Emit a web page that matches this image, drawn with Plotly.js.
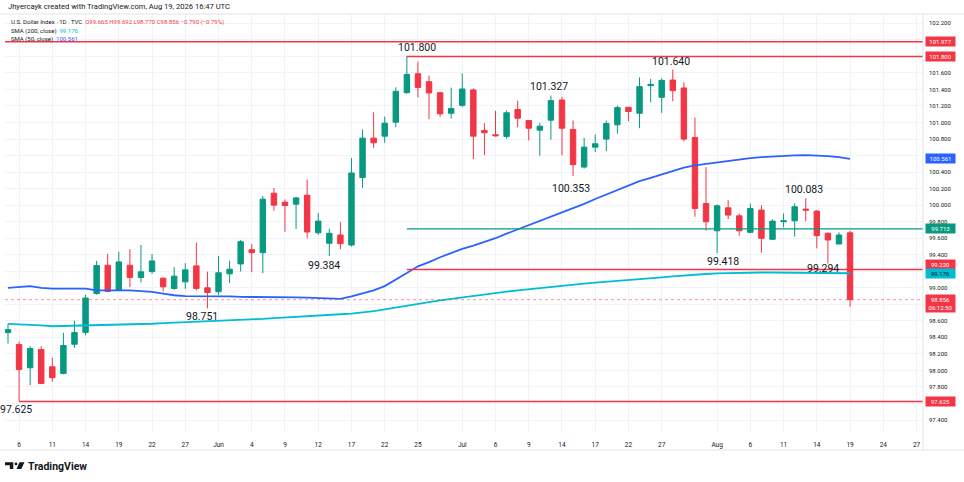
<!DOCTYPE html>
<html><head><meta charset="utf-8">
<script src="https://cdn.plot.ly/plotly-3.0.1.min.js"></script>
<style>html,body{margin:0;padding:0;background:#fff}#chart{width:964px;height:482px}</style>
</head><body><div id="chart"></div>
<script>
// ---------------- data ----------------
const dates = [
 '2026-05-05','2026-05-06','2026-05-07','2026-05-08','2026-05-11','2026-05-12','2026-05-13','2026-05-14','2026-05-15','2026-05-18','2026-05-19','2026-05-20','2026-05-21','2026-05-22','2026-05-25','2026-05-26','2026-05-27','2026-05-28','2026-05-29',
 '2026-06-01','2026-06-02','2026-06-03','2026-06-04','2026-06-05','2026-06-08','2026-06-09','2026-06-10','2026-06-11','2026-06-12','2026-06-15','2026-06-16','2026-06-17','2026-06-18','2026-06-19','2026-06-22','2026-06-23','2026-06-24','2026-06-25','2026-06-26','2026-06-29','2026-06-30',
 '2026-07-01','2026-07-02','2026-07-03','2026-07-06','2026-07-07','2026-07-08','2026-07-09','2026-07-10','2026-07-13','2026-07-14','2026-07-15','2026-07-16','2026-07-17','2026-07-20','2026-07-21','2026-07-22','2026-07-23','2026-07-24','2026-07-27','2026-07-28','2026-07-29','2026-07-30','2026-07-31',
 '2026-08-03','2026-08-04','2026-08-05','2026-08-06','2026-08-07','2026-08-10','2026-08-11','2026-08-12','2026-08-13','2026-08-14','2026-08-17','2026-08-18','2026-08-19'];

const opens = [
 98.458,98.313,98.032,98.253,98.045,97.964,98.317,98.461,98.931,99.273,98.967,99.273,99.124,99.196,99.117,98.992,99.072,99.265,99.000,
 98.952,99.169,99.289,99.461,99.425,100.145,100.036,100.012,100.120,99.666,99.539,99.639,99.518,100.334,100.811,100.835,101.004,101.361,101.590,101.494,101.361,101.112,
 101.208,101.394,100.904,100.852,100.831,101.157,101.024,100.907,101.028,101.273,100.916,100.461,100.702,100.799,100.972,101.184,101.112,101.446,101.305,101.514,101.418,100.819,100.020,
 99.690,99.968,99.871,99.671,99.940,99.587,99.799,99.811,99.952,99.928,99.659,99.530,99.665];
const highs = [
 98.566,98.350,98.293,98.293,98.153,98.454,98.602,98.916,99.325,99.410,99.437,99.466,99.518,99.410,99.120,99.249,99.298,99.546,99.196,
 99.386,99.329,99.578,99.530,100.112,100.208,100.069,100.100,100.310,99.904,99.714,99.795,100.570,100.916,101.124,101.072,101.425,101.800,101.735,101.570,101.370,101.422,
 101.594,101.413,100.992,101.141,101.145,101.265,101.030,100.996,101.327,101.313,101.024,100.816,100.855,101.024,101.205,101.190,101.546,101.527,101.534,101.640,101.486,101.060,100.461,
 100.008,100.060,99.900,100.020,100.000,99.828,99.900,100.020,100.083,99.940,99.670,99.671,99.692];
const lows = [
 98.325,97.625,97.823,97.840,97.864,97.952,98.273,98.425,98.916,98.948,98.960,99.008,99.064,99.169,98.955,98.976,98.988,98.967,98.751,
 98.916,99.057,99.196,99.189,99.177,99.931,99.678,99.711,99.599,99.639,99.384,99.466,99.498,100.208,100.690,100.755,100.943,101.350,101.305,101.040,101.069,101.048,
 101.184,100.558,100.606,100.831,100.804,100.943,100.783,100.599,100.792,100.602,100.353,100.442,100.642,100.654,100.864,101.016,100.931,101.245,101.117,101.257,100.771,99.859,99.690,
 99.418,99.831,99.630,99.659,99.425,99.578,99.731,99.618,99.807,99.478,99.294,99.530,98.770];
const closes = [
 98.494,98.012,98.265,97.843,97.912,98.301,98.458,98.876,99.269,98.955,99.313,99.124,99.193,99.325,99.012,99.141,99.217,98.992,98.943,
 99.181,99.225,99.558,99.425,100.072,100.000,99.996,100.088,99.675,99.807,99.659,99.534,100.389,100.811,100.755,100.992,101.377,101.582,101.425,101.358,101.105,101.169,
 101.406,100.835,100.876,100.840,101.117,101.052,100.931,100.955,101.265,100.931,100.490,100.702,100.743,100.988,101.181,101.133,101.434,101.461,101.510,101.386,100.799,99.960,99.799,
 99.992,99.880,99.690,99.960,99.599,99.807,99.811,99.980,99.940,99.630,99.578,99.639,98.856];

const sma50 = [
 99.00,99.01,99.02,99.00,98.99,98.99,98.99,98.99,98.97,98.97,98.97,98.97,98.96,98.95,98.93,98.91,98.90,98.90,98.90,
 98.90,98.895,98.89,98.89,98.885,98.883,98.885,98.885,98.88,98.875,98.868,98.867,98.897,98.93,98.97,99.02,99.095,99.18,99.26,99.31,99.37,99.42,
 99.47,99.51,99.555,99.60,99.655,99.705,99.76,99.81,99.86,99.91,99.96,100.015,100.075,100.13,100.185,100.24,100.29,100.33,100.37,100.415,100.455,100.482,100.50,
 100.515,100.533,100.55,100.57,100.58,100.59,100.597,100.603,100.606,100.602,100.593,100.58,100.561];
const sma200 = [
 98.563,98.56,98.555,98.545,98.535,98.538,98.54,98.542,98.542,98.545,98.549,98.553,98.558,98.565,98.572,98.577,98.581,98.586,98.59,
 98.595,98.60,98.608,98.616,98.624,98.633,98.642,98.652,98.66,98.666,98.672,98.68,98.688,98.70,98.718,98.738,98.758,98.78,98.802,98.826,98.847,98.866,
 98.886,98.904,98.92,98.937,98.953,98.968,98.983,98.997,99.011,99.025,99.039,99.05,99.062,99.072,99.08,99.087,99.10,99.113,99.125,99.137,99.149,99.159,99.167,
 99.175,99.179,99.182,99.184,99.185,99.185,99.184,99.183,99.182,99.181,99.179,99.178,99.176];

const tickDates = ['2026-05-06','2026-05-11','2026-05-14','2026-05-19','2026-05-22','2026-05-27','2026-06-01','2026-06-04','2026-06-09','2026-06-12','2026-06-17','2026-06-22','2026-06-25',
 '2026-07-01','2026-07-06','2026-07-09','2026-07-14','2026-07-17','2026-07-22','2026-07-27','2026-08-03','2026-08-06','2026-08-11','2026-08-14','2026-08-19','2026-08-24','2026-08-27'];
const tickLabels = ['6','11','14','19','22','27','Jun','4','9','12','17','22','25','Jul','6','9','14','17','22','27','Aug','6','11','14','19','24','27'];

const priceTicks = [97.4,97.6,97.8,98.0,98.2,98.4,98.6,98.8,99.0,99.2,99.4,99.6,99.8,100.0,100.2,100.4,100.6,100.8,101.0,101.2,101.4,101.6,101.8,102.0,102.2];

// horizontal levels drawn on the chart
const levelValues = [101.977, 101.800, 99.713, 99.220, 97.625];
const levelStarts = [null, '2026-06-24', '2026-06-24', '2026-06-24', '2026-05-06'];
const levelColors = ['#f23645','#f23645','#089981','#f23645','#f23645'];

// price notes (highs / lows)
const noteDates  = ['2026-06-24','2026-07-13','2026-07-28','2026-07-15','2026-08-13','2026-06-15','2026-08-03','2026-08-17','2026-05-29','2026-05-06'];
const noteValues = [101.800, 101.327, 101.640, 100.353, 100.083, 99.384, 99.418, 99.294, 98.751, 97.625];

// right-axis price tags
const tagValues = [101.977, 101.800, 100.561, 99.713, 99.220, 99.176, 98.856, 97.625];
const tagColors = ['#f23645','#f23645','#2962ff','#089981','#f23645','#00bcd4','#f23645','#f23645'];
const countdown = '06:12:50';

// ---------------- layout helpers ----------------
const PL = 5, PR = 923, PT = 14, PB = 433;
const px = x => (x - PL) / (PR - PL);
const py = y => (PB - y) / (PB - PT);
const X0 = '2026-05-04 17:30', X1 = '2026-08-27 14:00';
const FONT = 'Roboto, "Open Sans", sans-serif';
const TXT = '#131722';

const traces = [
 { type:'candlestick', x:dates, open:opens, high:highs, low:lows, close:closes,
   increasing:{line:{color:'#089981', width:1}, fillcolor:'#089981'},
   decreasing:{line:{color:'#f23645', width:1}, fillcolor:'#f23645'},
   whiskerwidth:0, hoverinfo:'skip' },
 { type:'scatter', mode:'lines', x:dates, y:sma200, line:{color:'#00bcd4', width:1.8}, hoverinfo:'skip' },
 { type:'scatter', mode:'lines', x:dates, y:sma50,  line:{color:'#2962ff', width:1.8}, hoverinfo:'skip' }
];

const shapes = [];
levelValues.forEach((v,i) => {
  shapes.push({type:'line', xref:'x', yref:'y', x0: levelStarts[i] || X0, x1:'2026-09-30', y0:v, y1:v,
    line:{color:levelColors[i], width: levelColors[i]==='#089981' ? 1.2 : 1.5}, layer:'above'});
});
// last price dotted line
shapes.push({type:'line', xref:'paper', yref:'y', x0:0, x1:1, y0:closes[closes.length-1], y1:closes[closes.length-1],
  line:{color:'rgba(242,54,69,0.55)', width:1, dash:'dot'}, layer:'above'});
// pane borders
const border = '#e0e3eb';
shapes.push({type:'line', xref:'paper', yref:'paper', x0:px(0), x1:px(964), y0:1, y1:1, line:{color:border, width:1}});
shapes.push({type:'line', xref:'paper', yref:'paper', x0:1, x1:1, y0:py(450), y1:1, line:{color:border, width:1}});
shapes.push({type:'line', xref:'paper', yref:'paper', x0:px(0), x1:px(964), y0:py(450), y1:py(450), line:{color:border, width:1}});
// TradingView logo
const P = (pts) => 'M ' + pts.map(p => px(p[0]) + ',' + py(p[1])).join(' L ') + ' Z';
shapes.push({type:'path', xref:'paper', yref:'paper', path:P([[5,462.3],[13.3,462.3],[13.3,469],[9.8,469],[9.8,465.2],[5,465.2]]), fillcolor:'#131722', line:{width:0}});
shapes.push({type:'circle', xref:'paper', yref:'paper', x0:px(14.6), x1:px(17.4), y0:py(465.3), y1:py(462.5), fillcolor:'#131722', line:{width:0}});
shapes.push({type:'path', xref:'paper', yref:'paper', path:P([[19.5,462.3],[24.5,462.3],[21.2,469],[16.6,469]]), fillcolor:'#131722', line:{width:0}});

const annotations = [];
// header lines
const hdr = (x, y, text, size) => annotations.push({xref:'paper', yref:'paper', x:px(x), y:py(y), xanchor:'left', yanchor:'middle',
  text, showarrow:false, font:{family:FONT, size, color:TXT}});
hdr(6, 7, 'Jhyercayk created with TradingView.com, Aug 19, 2026 16:47 UTC', 7.6);
hdr(9, 22, 'U.S. Dollar Index · 1D · TVC  <span style="color:#f23645">O99.665 H99.692 L98.770 C98.856 −0.790 (−0.79%)</span>', 6);
hdr(9, 31, 'SMA (200, close)  <span style="color:#00bcd4">' + sma200[sma200.length-1].toFixed(3) + '</span>', 6);
hdr(9, 39.5, 'SMA (50, close)  <span style="color:#2962ff">' + sma50[sma50.length-1].toFixed(3) + '</span>', 6);
annotations.push({xref:'paper', yref:'paper', x:px(26), y:py(466), xanchor:'left', yanchor:'middle', showarrow:false,
  text:'<b>TradingView</b>', font:{family:FONT, size:10.5, color:TXT}});

// price notes
const noteShift = [[10,9],[-2,9],[-2,8],[-2,-12.5],[-2,9],[-5,-9],[6,-8],[-5,-5],[-5,-8],[-3,-8]];
noteValues.forEach((v,i) => annotations.push({xref:'x', yref:'y', x:noteDates[i], y:v, text:v.toFixed(3), showarrow:false,
  xshift:noteShift[i][0], yshift:noteShift[i][1], font:{family:FONT, size:10.5, color:TXT}}));

// right tags
const tagShift = [0,0,0,0,5,-0.5,-3.5,0];
tagValues.forEach((v,i) => {
  const last = (i === 6);
  annotations.push({xref:'paper', yref:'y', x:1, y:v, xanchor:'left', xshift:1.5, yshift:tagShift[i], showarrow:false,
    text: v.toFixed(3) + (last ? '<br>' + countdown : ''), width:27, align:'center', bgcolor:tagColors[i], borderpad:1,
    font:{family:FONT, size:6, color: tagColors[i]==='#00bcd4' ? '#131722' : '#ffffff'}});
});

// tick labels hidden behind a price tag are left blank (grid line kept)
const tickText = priceTicks.map(t => tagValues.some(v => Math.abs(v - t) < 0.06) ? '' : t.toFixed(3));

const layout = {
  width:964, height:482, margin:{l:PL, r:964-PR, t:PT, b:482-PB},
  paper_bgcolor:'#ffffff', plot_bgcolor:'#ffffff', showlegend:false, dragmode:false,
  font:{family:FONT, color:TXT},
  xaxis:{type:'date', range:[X0, X1], rangebreaks:[{bounds:['sat','mon']}], rangeslider:{visible:false},
    tickmode:'array', tickvals:tickDates, ticktext:tickLabels, tickfont:{size:6.5, color:TXT},
    showgrid:true, gridcolor:'#f0f3fa', gridwidth:1, zeroline:false, showline:false, ticks:'', ticklabelstandoff:6, fixedrange:true},
  yaxis:{side:'right', range:[97.243, 102.313], tickmode:'array', tickvals:priceTicks, ticktext:tickText,
    tickfont:{size:6, color:TXT}, showgrid:true, gridcolor:'#f0f3fa', gridwidth:1, zeroline:false, showline:false, ticks:'',
    ticklabelstandoff:5, fixedrange:true},
  shapes, annotations
};

Plotly.newPlot('chart', traces, layout, {staticPlot:true, displayModeBar:false});
</script></body></html>
